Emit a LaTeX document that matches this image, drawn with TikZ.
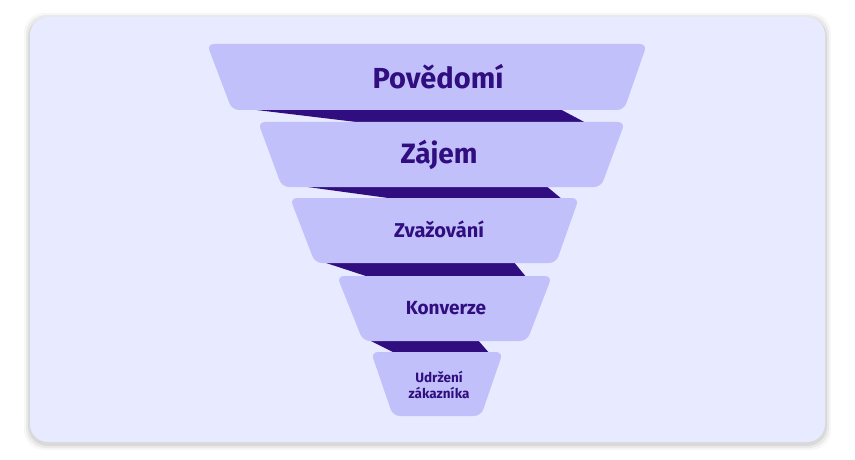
\documentclass[tikz,border=0pt]{standalone}
\usepackage{fontspec}
\setmainfont{Fira Sans}
\usetikzlibrary{calc}
\definecolor{cardbg}{RGB}{232,234,255}
\definecolor{layer}{RGB}{194,192,250}
\definecolor{deep}{RGB}{48,14,128}
\tikzset{
  layerbox/.style={fill=layer, rounded corners=7pt},
  band/.style={fill=deep},
  lbl/.style={text=deep, font=\bfseries, align=center, inner sep=0pt},
}
\begin{document}
\begin{tikzpicture}[x=1pt,y=-1pt]
\useasboundingbox (0,0) rectangle (855,460);
\fill[white] (0,0) rectangle (855,460);
% shadow
\foreach \i/\o in {6/0.03,4/0.05,2/0.07}{
  \fill[black,opacity=\o,rounded corners=20pt] (30-\i,17-\i+2) rectangle (825+\i,442+\i+2);
}
\fill[cardbg, rounded corners=18pt] (30,17) rectangle (825,442);
% dark bands
\fill[band] (240,108) -- (558,108) -- (588,124) -- (373,124) -- cycle;
\fill[band] (293,185) -- (545,185) -- (563,200) -- (403,200) -- cycle;
\fill[band] (320,261) -- (513,261) -- (527,278) -- (372,278) -- cycle;
\fill[band] (367,339) -- (477,339) -- (490,354) -- (397,354) -- cycle;
% layers
\fill[layerbox] (207,44) -- (647,44) -- (624,110) -- (232,110) -- cycle;
\fill[layerbox] (258,122) -- (625,122) -- (601,187) -- (282,187) -- cycle;
\fill[layerbox] (290,198) -- (579,198) -- (556,263) -- (315,263) -- cycle;
\fill[layerbox] (337,276) -- (552,276) -- (527,341) -- (363,341) -- cycle;
\fill[layerbox] (371,352) -- (503,352) -- (481,416) -- (393,416) -- cycle;
% labels
\node[lbl, font=\bfseries\fontsize{29}{32}\selectfont] (l1) at (438,77) {Povědomí};
\node[lbl, font=\bfseries\fontsize{28}{32}\selectfont, anchor=base] (l2) at (439,163) {Zájem};
\node[lbl, font=\bfseries\fontsize{20}{24}\selectfont] (l3) at (439,229) {Zvažování};
\node[lbl, font=\bfseries\fontsize{19}{22}\selectfont] (l4) at (446,308) {Konverze};
\node[lbl, font=\bfseries\fontsize{13.5}{16}\selectfont] (l5) at (439,385) {Udržení\\zákazníka};
\end{tikzpicture}
\end{document}
